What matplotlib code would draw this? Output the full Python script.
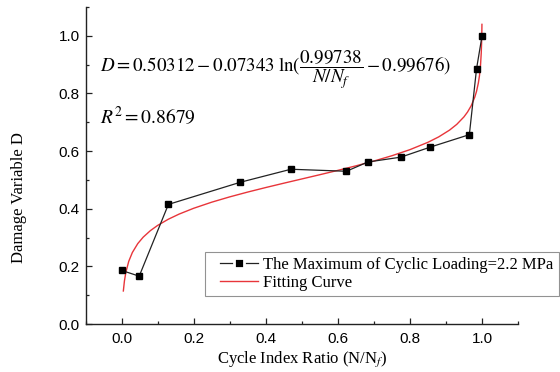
import numpy as np
import matplotlib
matplotlib.use("Agg")
import matplotlib.pyplot as plt
from matplotlib.ticker import MultipleLocator, FormatStrFormatter
from matplotlib.legend_handler import HandlerLine2D

# data
ratio = [0.0, 0.049, 0.13, 0.33, 0.47, 0.624, 0.683, 0.775, 0.857, 0.965, 0.985, 1.0]
damage = [0.186, 0.166, 0.415, 0.492, 0.537, 0.530, 0.562, 0.579, 0.614, 0.657, 0.886, 0.998]

# fitted equation shown on the chart
a_coef, b_coef, c_coef, d_coef = 0.50312, 0.07343, 0.99738, 0.99676
fit_x = [0.005, 0.008, 0.012, 0.02, 0.03, 0.045, 0.06, 0.08, 0.1, 0.13, 0.16, 0.2,
         0.25, 0.3, 0.35, 0.4, 0.45, 0.5, 0.55, 0.6, 0.65, 0.7, 0.75, 0.8, 0.85,
         0.88, 0.91, 0.93, 0.95, 0.96, 0.97, 0.98, 0.985, 0.99, 0.993, 0.996,
         0.998, 0.999, 0.9995, 0.9998, 0.99995]

fit_x = np.array(fit_x)
fit_y = a_coef - b_coef * np.log(c_coef / fit_x - d_coef)

plt.rcParams['mathtext.fontset'] = 'stix'

fig = plt.figure(figsize=(5.6, 3.72), dpi=100)
ax = fig.add_axes([85.5/560, 1-324/372, (518-85.5)/560, (324-7)/372])

ax.plot(ratio, damage, color='#222222', lw=0.9, marker='s', ms=5,
        mfc='black', mec='black', label='The Maximum of Cyclic Loading=2.2 MPa', zorder=3)
ax.plot(fit_x, fit_y, color='#e8353a', lw=1.0, label='Fitting Curve', zorder=2)

ax.set_xlim(-0.1, 1.1)
ax.set_ylim(0.0, 1.1)
ax.xaxis.set_major_locator(MultipleLocator(0.2))
ax.xaxis.set_minor_locator(MultipleLocator(0.1))
ax.yaxis.set_major_locator(MultipleLocator(0.2))
ax.yaxis.set_minor_locator(MultipleLocator(0.1))
ax.tick_params(which='both', direction='in', width=0.9, color='#222222')
ax.tick_params(which='major', length=4.5)
ax.tick_params(which='minor', length=2.5)
for lab in ax.get_xticklabels() + ax.get_yticklabels():
    lab.set_family('Liberation Sans')
    lab.set_fontsize(11)
ax.xaxis.set_major_formatter(FormatStrFormatter('%.1f'))
ax.yaxis.set_major_formatter(FormatStrFormatter('%.1f'))
ax.tick_params(axis='x', pad=6)
ax.tick_params(axis='y', pad=4)

for s in ['top', 'right']:
    ax.spines[s].set_visible(False)
for s in ['left', 'bottom']:
    ax.spines[s].set_linewidth(1.0)
    ax.spines[s].set_color('#222222')

ax.set_xlabel('Cycle Index Ratio (N/N$_f$)', family='Liberation Serif', fontsize=12, labelpad=2)
ax.set_ylabel('Damage Variable D', family='Liberation Serif', fontsize=12)
ax.yaxis.set_label_coords((27 - 85.5) / 432.5, 0.40)

fig.text(100/560, 1-70/372,
         r'$D=0.50312-0.07343\;\ln(\dfrac{0.99738}{N/N_f}-0.99676)$',
         fontsize=13.7, va='center', ha='left')
fig.text(100/560, 1-117/372, r'$R^2=0.8679$', fontsize=14, va='center', ha='left')

hmap = {ln: HandlerLine2D(xpad=0.6) for ln in ax.get_lines()}
leg = ax.legend(loc='upper left', bbox_to_anchor=(205/560, 1-252/372),
                bbox_transform=fig.transFigure, frameon=True, fancybox=False,
                prop={'family': 'Liberation Serif', 'size': 12},
                handlelength=2.9, borderaxespad=0, labelspacing=0.12,
                handletextpad=0.3, borderpad=0.3, handler_map=hmap)
leg.get_frame().set_edgecolor('#777777')
leg.get_frame().set_linewidth(0.8)
h0 = leg.legend_handles[0]
h0.set_markeredgecolor('white')
h0.set_markeredgewidth(2.0)
h0.set_markersize(6.5)

fig.savefig('out.png', dpi=100)
